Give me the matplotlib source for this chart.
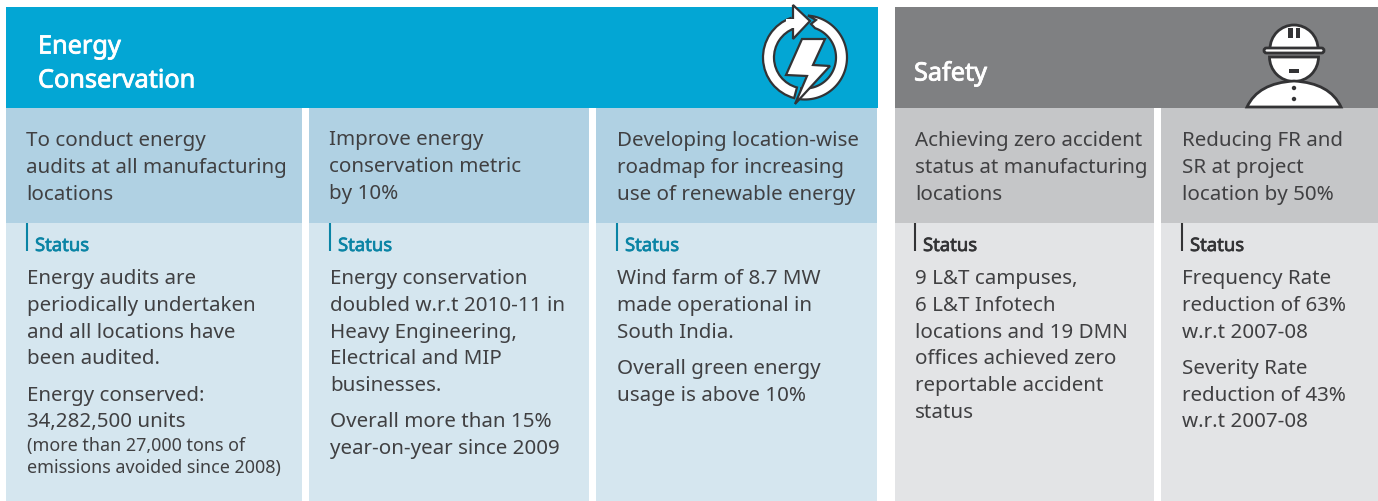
import numpy as np
import matplotlib
matplotlib.use("Agg")
import matplotlib.pyplot as plt
import matplotlib.patheffects as pe
from matplotlib.patches import Rectangle, Polygon, Wedge, Circle, FancyBboxPatch, PathPatch
from matplotlib.path import Path

plt.rcParams['font.family'] = ['Noto Sans', 'DejaVu Sans']

HEAD_L = ["Energy", "Conservation"]
HEAD_R = ["Safety"]
TARGETS = [
    ["To conduct energy", "audits at all manufacturing", "locations"],
    ["Improve energy", "conservation metric", "by 10%"],
    ["Developing location-wise", "roadmap for increasing", "use of renewable energy"],
    ["Achieving zero accident", "status at manufacturing", "locations"],
    ["Reducing FR and", "SR at project", "location by 50%"],
]
STATUS = [
    [("Energy audits are", 277), ("periodically undertaken", 304), ("and all locations have", 331), ("been audited.", 357),
     ("Energy conserved:", 394), ("34,282,500 units", 420)],
    [("Energy conservation", 277), ("doubled w.r.t 2010-11 in", 304), ("Heavy Engineering,", 331), ("Electrical and MIP", 357),
     ("businesses.", 384), ("Overall more than 15%", 420), ("year-on-year since 2009", 447)],
    [("Wind farm of 8.7 MW", 277), ("made operational in", 304), ("South India.", 331),
     ("Overall green energy", 367), ("usage is above 10%", 394)],
    [("9 L&T campuses,", 277), ("6 L&T Infotech", 304), ("locations and 19 DMN", 331), ("offices achieved zero", 357),
     ("reportable accident", 384), ("status", 411)],
    [("Frequency Rate", 277), ("reduction of 63%", 304), ("w.r.t 2007-08", 331),
     ("Severity Rate", 367), ("reduction of 43%", 394), ("w.r.t 2007-08", 420)],
]
NOTE = ["(more than 27,000 tons of", "emissions avoided since 2008)"]

BLUE, BLUE_M, BLUE_L = "#03A6D4", "#B0D1E3", "#D5E6EF"
GRAY, GRAY_M, GRAY_L = "#7F8082", "#C5C6C8", "#E3E4E6"
TXT = "#404042"
TEAL = "#0A84A5"
DARK = "#333335"

fig = plt.figure(figsize=(13.78, 5.01), dpi=100)
ax = fig.add_axes([0, 0, 1, 1])
ax.set_xlim(0, 1378)
ax.set_ylim(501, 0)
ax.axis("off")

def rect(x0, x1, y0, y1, c, z=1):
    ax.add_patch(Rectangle((x0, y0), x1 - x0, y1 - y0, fc=c, ec="none", zorder=z))

def heavy(t, c, w=0.5):
    t.set_path_effects([pe.withStroke(linewidth=w, foreground=c)])

rect(6, 878, 7, 108, BLUE)
rect(895, 1378, 7, 108, GRAY)
cols = [(6, 302, 27, BLUE_M, BLUE_L, TEAL), (309, 589, 330, BLUE_M, BLUE_L, TEAL), (596, 877, 617, BLUE_M, BLUE_L, TEAL),
        (895, 1154, 915, GRAY_M, GRAY_L, DARK), (1161, 1378, 1182, GRAY_M, GRAY_L, DARK)]
FS = 14.8
OFF = 2
for i, (x0, x1, tx, cm, cl, sc) in enumerate(cols):
    rect(x0, x1, 108, 223, cm)
    rect(x0, x1, 223, 501, cl)
    ty = [139, 166, 193]
    if i == 1:
        ty = [138, 165, 192]
    for s, y in zip(TARGETS[i], ty):
        ax.text(tx - 1 if i in (1, 0) else tx, y + OFF, s, fontsize=FS, color=TXT, va="center", ha="left")
    ax.plot([tx, tx], [223, 251], color=sc, lw=1.5, solid_capstyle="butt", zorder=3)
    heavy(ax.text(tx + 8, 244 + OFF, "Status", fontsize=FS - 1.5, color=sc, va="center", ha="left"), sc)
    for s, y in STATUS[i]:
        ax.text(tx, y + OFF, s, fontsize=FS, color=TXT, va="center", ha="left")
for s, y in zip(NOTE, [445, 467]):
    ax.text(27, y + 1, s, fontsize=12.9, color=TXT, va="center", ha="left")

for s, y in zip(HEAD_L, [45, 79]):
    heavy(ax.text(38, y + OFF, s, fontsize=18.2, color="white", va="center", ha="left"), "white", 0.6)
heavy(ax.text(914, 72 + OFF, HEAD_R[0], fontsize=18.2, color="white", va="center", ha="left"), "white", 0.6)

# --- energy icon: circular arrows and lightning bolt
cx, cy, ro, ri = 805, 57.5, 42, 31
def arc_pts(r, a0, a1):
    a = np.radians(np.linspace(a0, a1, 60))
    return np.column_stack([cx + r * np.cos(a), cy + r * np.sin(a)])
right_arc = np.vstack([arc_pts(ro, -86, 97), arc_pts(ri, 97, -71), [(811, 24), (816, 20)]])
ax.add_patch(Polygon(right_arc, closed=True, fc="white", ec=DARK, lw=1.6, zorder=4))
ax.add_patch(Wedge((cx, cy), ro, 105, 250, width=ro - ri, fc="white", ec=DARK, lw=1.6, zorder=4))
ax.add_patch(Polygon([(793, 5), (810, 21), (793, 39)], closed=True, fc="white", ec=DARK, lw=1.6, zorder=5))
rect(786, 794.5, 19, 28, "white", 6)
ax.add_patch(Polygon([(802, 39), (825, 39), (813, 65), (830, 66), (795, 104), (807, 76), (786, 75)],
                     closed=True, fc="white", ec=DARK, lw=1.6, joinstyle="miter", zorder=7))

# --- safety icon: worker with hard hat
hx = 1294
ax.add_patch(Wedge((hx, 49), 24, 180, 360, fc="white", ec=DARK, lw=2, zorder=4))
ax.add_patch(Wedge((hx, 57), 24.5, 0, 180, fc="white", ec=DARK, lw=2, zorder=4))
ax.add_patch(FancyBboxPatch((1264, 48), 60, 5, boxstyle="round,pad=0,rounding_size=2.5", fc="white", ec=DARK, lw=2, zorder=5))
rect(1288, 1292.5, 28, 38, DARK, 6)
rect(1296, 1300, 28, 38, DARK, 6)
rect(1289, 1299, 69, 73, DARK, 6)
body = Path([(1247, 107), (1258, 83), (1294, 81), (1330, 83), (1341, 107), (1247, 107)],
            [Path.MOVETO, Path.CURVE3, Path.CURVE3, Path.CURVE3, Path.CURVE3, Path.CLOSEPOLY])
ax.add_patch(PathPatch(body, fc="white", ec=DARK, lw=2, zorder=5))
for y in (88, 99):
    ax.add_patch(Circle((hx, y), 2.2, fc=DARK, ec="none", zorder=6))

fig.savefig("out.png", dpi=100)
